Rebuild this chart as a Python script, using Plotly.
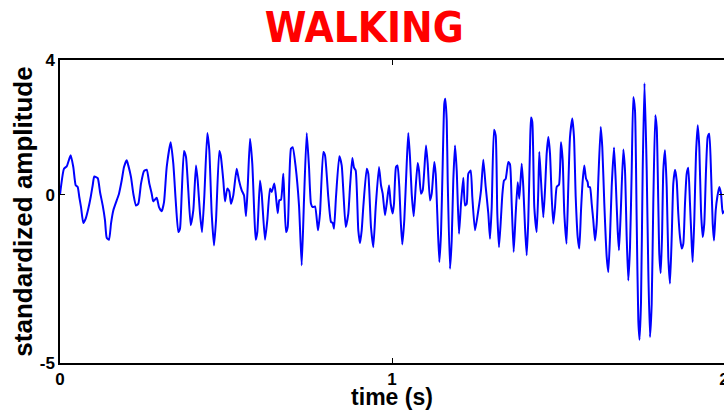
import plotly.graph_objects as go

# time (s) and standardized amplitude
time_s = [
    0.0000, 0.0120, 0.0202, 0.0322, 0.0401, 0.0473, 0.0533, 0.0581, 0.0633, 0.0702,
    0.0774, 0.0852, 0.0925, 0.0985, 0.1033, 0.1136, 0.1205, 0.1286, 0.1355, 0.1407,
    0.1476, 0.1536, 0.1605, 0.1708, 0.1777, 0.1858, 0.1928, 0.2009, 0.2057, 0.2139,
    0.2208, 0.2289, 0.2358, 0.2440, 0.2530, 0.2611, 0.2690, 0.2762, 0.2810, 0.2913,
    0.2982, 0.3063, 0.3133, 0.3214, 0.3334, 0.3413, 0.3485, 0.3563, 0.3614, 0.3666,
    0.3735, 0.3795, 0.3864, 0.3937, 0.4015, 0.4096, 0.4148, 0.4217, 0.4277, 0.4346,
    0.4437, 0.4497, 0.4569, 0.4639, 0.4699, 0.4798, 0.4840, 0.4919, 0.4970, 0.5039,
    0.5099, 0.5151, 0.5220, 0.5322, 0.5392, 0.5473, 0.5542, 0.5602, 0.5654, 0.5723,
    0.5792, 0.5852, 0.5895, 0.5943, 0.6024, 0.6075, 0.6175, 0.6244, 0.6325, 0.6377,
    0.6455, 0.6497, 0.6557, 0.6605, 0.6657, 0.6726, 0.6756, 0.6807, 0.6858, 0.6907,
    0.6958, 0.7009, 0.7099, 0.7199, 0.7280, 0.7349, 0.7431, 0.7500, 0.7560, 0.7611,
    0.7681, 0.7771, 0.7831, 0.7931, 0.7982, 0.8081, 0.8163, 0.8214, 0.8253, 0.8313,
    0.8413, 0.8485, 0.8533, 0.8605, 0.8684, 0.8735, 0.8804, 0.8855, 0.8906, 0.8985,
    0.9036, 0.9087, 0.9135, 0.9238, 0.9286, 0.9367, 0.9437, 0.9509, 0.9608, 0.9669,
    0.9720, 0.9789, 0.9840, 0.9910, 0.9961, 1.0021, 1.0060, 1.0120, 1.0166, 1.0220,
    1.0262, 1.0310, 1.0370, 1.0443, 1.0491, 1.0542, 1.0593, 1.0654, 1.0714, 1.0774,
    1.0813, 1.0873, 1.0925, 1.1024, 1.1075, 1.1145, 1.1196, 1.1274, 1.1316, 1.1364,
    1.1425, 1.1476, 1.1527, 1.1575, 1.1605, 1.1648, 1.1678, 1.1747, 1.1798, 1.1846,
    1.1898, 1.1949, 1.2018, 1.2078, 1.2147, 1.2199, 1.2250, 1.2298, 1.2370, 1.2419,
    1.2500, 1.2599, 1.2681, 1.2750, 1.2822, 1.2901, 1.2952, 1.3003, 1.3072, 1.3123,
    1.3172, 1.3223, 1.3283, 1.3322, 1.3373, 1.3424, 1.3503, 1.3554, 1.3605, 1.3665,
    1.3726, 1.3786, 1.3834, 1.3907, 1.3955, 1.4006, 1.4057, 1.4105, 1.4157, 1.4187,
    1.4226, 1.4286, 1.4358, 1.4407, 1.4437, 1.4488, 1.4557, 1.4608, 1.4659, 1.4708,
    1.4759, 1.4810, 1.4858, 1.4910, 1.4961, 1.5030, 1.5090, 1.5141, 1.5190, 1.5256,
    1.5310, 1.5361, 1.5431, 1.5482, 1.5533, 1.5593, 1.5642, 1.5693, 1.5744, 1.5792,
    1.5843, 1.5895, 1.5913, 1.5964, 1.6015, 1.6063, 1.6114, 1.6166, 1.6214, 1.6286,
    1.6334, 1.6395, 1.6467, 1.6515, 1.6566, 1.6617, 1.6687, 1.6738, 1.6798, 1.6837,
    1.6889, 1.6967, 1.7018, 1.7069, 1.7117, 1.7169, 1.7220, 1.7268, 1.7319, 1.7370,
    1.7419, 1.7455, 1.7500, 1.7551, 1.7605, 1.7672, 1.7720, 1.7771, 1.7822, 1.7870,
    1.7931, 1.7973, 1.8021, 1.8051, 1.8093, 1.8133, 1.8172, 1.8223, 1.8274, 1.8322,
    1.8373, 1.8425, 1.8473, 1.8524, 1.8575, 1.8623, 1.8675, 1.8726, 1.8774, 1.8825,
    1.8876, 1.8924, 1.8976, 1.9027, 1.9057, 1.9105, 1.9157, 1.9208, 1.9256, 1.9307,
    1.9358, 1.9406, 1.9458, 1.9509, 1.9557, 1.9608, 1.9660, 1.9699, 1.9750, 1.9798,
    1.9858, 1.9910, 1.9961, 2.0000,
]

amplitude = [
    0.00, 0.77, 0.84, 1.17, 0.82, 0.28, 0.23, -0.07, -0.37, -0.84,
    -0.71, -0.42, -0.07, 0.28, 0.54, 0.49, 0.08, -0.32, -0.76, -1.28,
    -1.34, -0.86, -0.47, -0.17, 0.03, 0.42, 0.82, 1.02, 0.87, 0.52,
    0.03, -0.32, -0.27, 0.33, 0.70, 0.74, 0.33, 0.03, -0.20, -0.09,
    -0.37, -0.49, -0.22, 0.82, 1.56, 0.92, -0.17, -1.11, -1.01, 0.03,
    1.30, 1.12, 0.13, -0.91, -0.47, 0.87, 0.42, -0.56, -1.11, -0.07,
    1.83, 1.32, -0.56, -1.51, -0.76, 1.30, 1.17, 0.42, -0.20, 0.18,
    0.10, -0.27, -0.02, 0.77, 0.42, 0.13, -0.02, -0.64, 0.23, 1.66,
    0.92, -0.56, -1.34, -1.11, 0.42, 0.03, -1.34, -0.76, 0.18, 0.08,
    0.33, 0.03, -0.55, -0.17, -0.15, 0.62, -0.07, -1.11, -0.96, 0.42,
    1.37, 1.41, 0.82, -0.32, -2.10, -0.17, 1.83, 0.82, -0.27, -0.37,
    -0.35, -1.06, -0.56, 1.27, 1.17, -0.07, -0.81, -0.84, -1.01, -0.07,
    1.14, 0.87, 0.13, -0.96, -0.56, 0.23, 1.09, 0.80, 0.72, -1.06,
    -1.44, -1.06, -0.37, 0.77, 0.62, -0.96, -1.56, -0.37, 0.82, 0.28,
    0.03, -0.61, -0.27, 0.28, -0.27, -0.56, -0.27, 0.82, 0.87, 0.23,
    -0.76, -1.48, -0.76, 0.92, 1.83, 1.12, 0.03, -0.64, 0.23, 0.94,
    0.72, 0.03, 0.13, 1.46, 0.92, -0.17, 0.03, 0.97, 0.62, -0.56,
    -2.00, -1.16, 0.92, 2.70, 2.85, 2.21, 0.42, -2.20, -1.36, 0.42,
    1.46, 0.72, -1.16, -0.27, 0.50, -0.32, -0.27, 0.62, 0.72, -0.07,
    -1.06, -0.47, 0.13, 1.04, 0.23, -0.56, -1.31, -0.37, 1.93, 1.76,
    -0.56, -1.56, -0.67, -0.02, 0.42, 0.47, 0.97, 0.90, -0.27, -1.70,
    -0.56, 0.37, -0.12, 0.92, 0.23, -0.96, -1.80, -0.76, 1.41, 2.29,
    2.16, -0.37, -1.11, 0.13, 1.27, 0.42, -0.67, 0.13, 1.22, 1.71,
    1.22, -0.07, -0.86, -0.37, 0.23, 0.30, 1.56, 1.02, -0.56, -1.46,
    0.23, 1.71, 2.26, 1.71, -0.07, -1.26, -1.60, -0.47, 0.42, 0.87,
    0.48, 0.37, 0.23, 0.22, -0.27, -0.76, -1.36, -0.86, 0.42, 2.01,
    1.41, -0.27, -1.85, -2.30, -1.26, 0.23, 1.40, 0.42, -1.06, -1.65,
    -0.56, 1.34, 0.72, -1.26, -2.55, -1.56, 0.72, 2.90, 2.50, -0.76,
    -3.73, -4.31, -3.20, 0.72, 3.31, 0.72, -2.25, -4.23, -3.24, -0.27,
    2.36, 2.01, -0.27, -1.75, -2.33, -1.26, 0.72, 1.32, 0.23, -1.85,
    -2.64, -1.26, 0.33, 0.74, 0.42, -0.56, -1.26, -1.60, -1.46, -0.27,
    0.62, 0.80, -0.27, -1.46, -2.00, -0.76, 1.22, 2.06, 1.41, -0.47,
    -1.26, -0.86, 0.72, 1.71, 1.81, 0.72, -0.86, -1.36, -0.47, -0.07,
    0.23, 0.03, -0.56, -0.47,
]

x_ticks = [0, 1, 2]
y_ticks = [-5, 0, 4]
title_text = "WALKING"
x_title = "time (s)"
y_title = "standardized amplitude"

fig = go.Figure()
fig.add_trace(go.Scatter(
    x=time_s, y=amplitude, mode="lines",
    line=dict(color="#0000FF", width=2, shape="spline", smoothing=0.5),
    showlegend=False, hoverinfo="skip",
))

base_family = "Liberation Sans, Arial, sans-serif"
tick_font = dict(family=base_family, size=17, color="black", weight="bold")
axis_common = dict(
    showline=True, linecolor="black", linewidth=1.5, mirror="ticks",
    ticks="inside", ticklen=5, tickwidth=1, tickcolor="black",
    showgrid=False, zeroline=False, tickfont=tick_font,
    ticklabeloverflow="allow", automargin=False,
)

fig.update_layout(
    width=724, height=410,
    margin=dict(l=60, r=0, t=60, b=47),
    paper_bgcolor="white", plot_bgcolor="white",
    title=dict(
        text=title_text,
        font=dict(family="Liberation Sans Narrow, DejaVu Sans Condensed, Liberation Sans, sans-serif",
                  size=42, color="#FF0000", weight="bold"),
        x=0.503, xanchor="center", xref="container",
        y=0.934, yanchor="middle", yref="container",
    ),
    xaxis=dict(
        range=[0, 2], tickvals=x_ticks, ticktext=[str(v) for v in x_ticks],
        title=dict(text=x_title, standoff=2,
                   font=dict(family=base_family, size=23, color="black", weight="bold")),
        **axis_common,
    ),
    yaxis=dict(
        range=[-5, 4], tickvals=y_ticks, ticktext=[str(v) for v in y_ticks],
        title=dict(text=y_title, standoff=0,
                   font=dict(family=base_family, size=26, color="black", weight="bold")),
        **axis_common,
    ),
)

fig.write_html("out.html")
